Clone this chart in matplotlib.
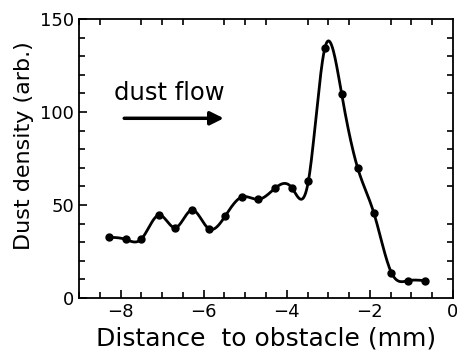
import numpy as np
import matplotlib.pyplot as plt
from matplotlib.ticker import MultipleLocator

distance = [-8.28, -7.88, -7.50, -7.07, -6.68, -6.28, -5.88, -5.48, -5.08, -4.68,
            -4.28, -3.88, -3.48, -3.08, -2.68, -2.29, -1.90, -1.48, -1.08, -0.68]
density = [32.6, 31.5, 31.7, 44.6, 37.8, 47.3, 37.3, 44.1, 54.3, 53.0,
           59.0, 59.3, 62.7, 134.6, 109.9, 69.7, 45.5, 13.6, 9.3, 9.3]

x_ticks = [-8, -6, -4, -2, 0]
y_ticks = [0, 50, 100, 150]


def spline_curve(x, y, n=600):
    # natural cubic spline, only used to draw the smooth connecting line
    x = np.asarray(x, float)
    y = np.asarray(y, float)
    k = len(x)
    h = np.diff(x)
    A = np.zeros((k, k))
    b = np.zeros(k)
    A[0, 0] = A[-1, -1] = 1
    for i in range(1, k - 1):
        A[i, i - 1] = h[i - 1]
        A[i, i] = 2 * (h[i - 1] + h[i])
        A[i, i + 1] = h[i]
        b[i] = 3 * ((y[i + 1] - y[i]) / h[i] - (y[i] - y[i - 1]) / h[i - 1])
    c = np.linalg.solve(A, b)
    xs = np.linspace(x[0], x[-1], n)
    idx = np.clip(np.searchsorted(x, xs) - 1, 0, k - 2)
    dx = xs - x[idx]
    hi = h[idx]
    bi = (y[idx + 1] - y[idx]) / hi - hi * (2 * c[idx] + c[idx + 1]) / 3
    di = (c[idx + 1] - c[idx]) / (3 * hi)
    ys = y[idx] + bi * dx + c[idx] * dx ** 2 + di * dx ** 3
    return xs, ys


def main():
    fig = plt.figure(figsize=(4.57, 3.55), dpi=100)
    ax = fig.add_axes([0.173, 0.1606, 0.818, 0.786])

    xs, ys = spline_curve(distance, density)
    ax.plot(xs, ys, color='black', lw=2.0)
    ax.plot(distance, density, 'o', color='black', ms=5)

    ax.set_xlim(-9, 0)
    ax.set_ylim(0, 150)
    ax.set_xticks(x_ticks)
    ax.set_yticks(y_ticks)
    ax.xaxis.set_minor_locator(MultipleLocator(0.5))
    ax.yaxis.set_minor_locator(MultipleLocator(10))
    ax.tick_params(which='both', direction='in', top=True, right=True,
                   labelsize=13, width=1.2)
    ax.tick_params(which='major', length=6)
    ax.tick_params(which='minor', length=4)
    ax.tick_params(axis='x', which='major', top=False)
    ax.tick_params(axis='y', which='major', right=False)
    for s in ax.spines.values():
        s.set_linewidth(1.3)

    ax.set_xlabel('Distance  to obstacle (mm)', fontsize=18, labelpad=4)
    ax.set_ylabel('Dust density (arb.)', fontsize=16)
    ax.yaxis.set_label_coords(-0.12, 0.545)

    # flow direction annotation
    ax.text(-8.15, 106.5, 'dust flow', fontsize=17.5)
    ax.annotate('', xy=(-5.45, 96.6), xytext=(-7.98, 96.6),
                arrowprops=dict(arrowstyle='-|>', color='black', lw=2.5,
                                mutation_scale=20))

    fig.savefig('out.png', dpi=100)


if __name__ == "__main__":
    main()
